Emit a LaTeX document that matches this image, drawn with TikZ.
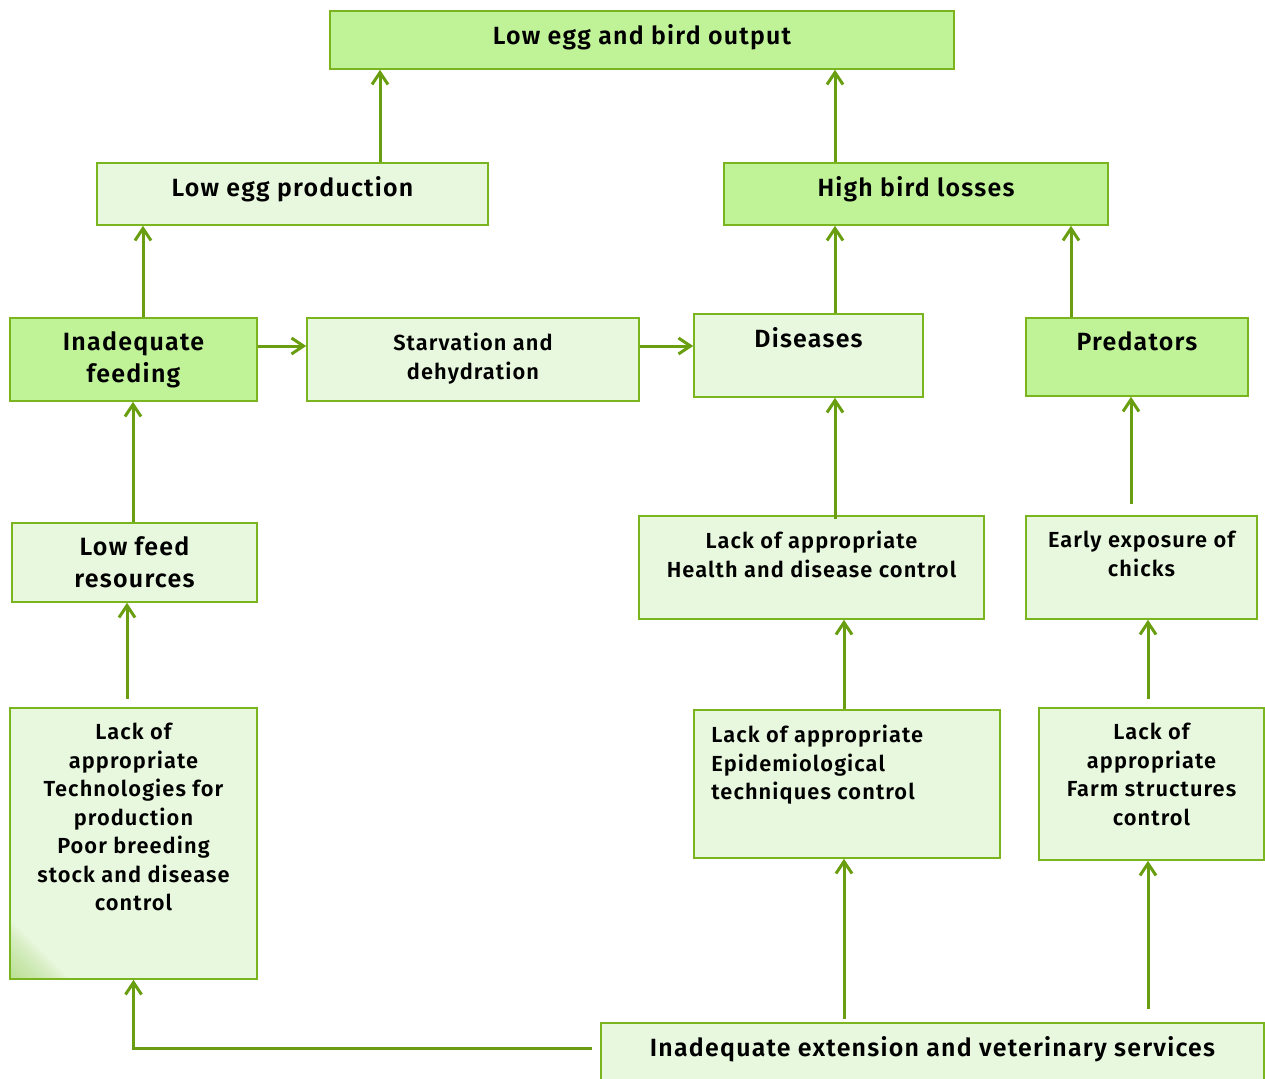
\documentclass[tikz,border=0pt]{standalone}
\usepackage{fontspec}
\setmainfont{Fira Sans}[BoldFont={Fira Sans SemiBold},LetterSpace=5]
\definecolor{pfdark}{RGB}{192,243,152}
\definecolor{pflight}{RGB}{232,248,222}
\definecolor{pfline}{RGB}{122,180,30}
\definecolor{pfarrow}{RGB}{104,158,16}
\usetikzlibrary{arrows.meta,positioning,calc}

\begin{document}
\begin{tikzpicture}[x=1pt,y=-1pt,
  pfbox/.style={draw=pfline,line width=1.6pt,rectangle,inner sep=0pt},
  pfhi/.style={pfbox,fill=pfdark},
  pflo/.style={pfbox,fill=pflight},
  pftxt/.style={anchor=north,yshift=-16pt,align=center,inner sep=0pt,
    font=\bfseries\fontsize{21.8}{28.5}\selectfont},
  pfmid/.style={pftxt,yshift=1.5pt,font=\bfseries\fontsize{24.9}{30}\selectfont},
  pfbig/.style={pftxt,yshift=2pt,font=\bfseries\fontsize{25}{32}\selectfont},
  pfarr/.style={-{Straight Barb[length=12pt,width=16pt]},line width=3pt,pfarrow}
]
  \useasboundingbox (0,0) rectangle (1265,1078);
  % effects
  \node[pfhi,minimum width=624pt,minimum height=58pt,
    label={[pfmid,name=out-t]north:{Low egg and bird output}}] (out) at (642,40) {};
  \node[pflo,minimum width=391pt,minimum height=62pt,
    label={[pfmid,name=egg-t]north:{Low egg production}}] (egg) at (292.5,194) {};
  \node[pfhi,minimum width=384pt,minimum height=62pt,
    label={[pfmid,name=loss-t]north:{High bird losses}}] (loss) at (916,194) {};
  % direct causes
  \node[pfhi,minimum width=247pt,minimum height=83pt,
    label={[pfbig,name=feed-t]north:{Inadequate\\feeding}}] (feed) at (133.5,359.5) {};
  \node[pflo,minimum width=332pt,minimum height=83pt,
    label={[pftxt,name=starv-t]north:{Starvation and\\dehydration}}] (starv) at (473,359.5) {};
  \node[pflo,minimum width=229pt,minimum height=83pt,
    label={[pfmid,name=dis-t]north:{Diseases}}] (dis) at (808.5,355.5) {};
  \node[pfhi,minimum width=222pt,minimum height=78pt,
    label={[pfmid,name=pred-t]north:{Predators}}] (pred) at (1137,357) {};
  % underlying causes
  \node[pflo,minimum width=245pt,minimum height=79pt,
    label={[pfbig,name=lowfeed-t]north:{Low feed\\resources}}] (lowfeed) at (134.5,562.5) {};
  \node[pflo,minimum width=345pt,minimum height=103pt,
    label={[pftxt,name=health-t]north:{Lack of appropriate\\Health and disease control}}] (health) at (811.5,567.5) {};
  \node[pflo,minimum width=231pt,minimum height=103pt,
    label={[pftxt,name=early-t]north:{Early exposure of\\chicks}}] (early) at (1141.5,567.5) {};
  % root causes
  \node[pflo,minimum width=247pt,minimum height=271pt,
    path picture={\foreach \d in {3,6,...,60}
      \fill[pfdark!50!pfline,opacity=0.035] (path picture bounding box.south west)
        -- ++(0,-\d) -- ++(\d,\d) -- cycle;},
    label={[pftxt,name=techn-t]north:{Lack of\\appropriate\\Technologies for\\production\\Poor breeding\\stock and disease\\control}}] (techn) at (133.5,843.5) {};
  \node[pflo,minimum width=306pt,minimum height=148pt,
    label={[pftxt,anchor=north west,align=left,xshift=18pt,name=epid-t]north west:{Lack of appropriate\\Epidemiological\\techniques control}}] (epid) at (847,784) {};
  \node[pflo,minimum width=225pt,minimum height=152pt,
    label={[pftxt,name=farm-t]north:{Lack of\\appropriate\\Farm structures\\control}}] (farm) at (1151.5,784) {};
  \node[pflo,minimum width=663pt,minimum height=62pt,
    label={[pfmid,name=ext-t]north:{Inadequate extension and veterinary services}}] (ext) at (932.5,1054) {};
  % arrows
  \draw[pfarr] ([xshift=87.5pt]egg.north) -- ([xshift=87.5pt]egg.north |- out.south);
  \draw[pfarr] ([xshift=-81pt]loss.north) -- ([xshift=-81pt]loss.north |- out.south);
  \draw[pfarr] ([xshift=9.5pt]feed.north) -- ([xshift=9.5pt]feed.north |- egg.south);
  \draw[pfarr] ([xshift=26.5pt]dis.north) -- ([xshift=26.5pt]dis.north |- loss.south);
  \draw[pfarr] ([xshift=-66pt]pred.north) -- ([xshift=-66pt]pred.north |- loss.south);
  \draw[pfarr] ([yshift=13.5pt]feed.east) -- ([yshift=13.5pt]feed.east -| starv.west);
  \draw[pfarr] ([yshift=13.5pt]starv.east) -- ([yshift=13.5pt]starv.east -| dis.west);
  \draw[pfarr] ([xshift=-1.5pt]lowfeed.north) -- ([xshift=-1.5pt]lowfeed.north |- feed.south);
  \draw[pfarr,shorten <=-4pt] ([xshift=23.5pt]health.north) -- ([xshift=23.5pt]health.north |- dis.south);
  \draw[pfarr,shorten <=11pt] ([xshift=-10.5pt]early.north) -- ([xshift=-10.5pt]early.north |- pred.south);
  \draw[pfarr,shorten <=8pt] ([xshift=-6.5pt]techn.north) -- ([xshift=-6.5pt]techn.north |- lowfeed.south);
  \draw[pfarr] ([xshift=-3pt]epid.north) -- ([xshift=-3pt]epid.north |- health.south);
  \draw[pfarr,shorten <=8pt] ([xshift=-3.5pt]farm.north) -- ([xshift=-3.5pt]farm.north |- early.south);
  \draw[pfarr,shorten <=3pt] ([xshift=-88.5pt]ext.north) -- ([xshift=-88.5pt]ext.north |- epid.south);
  \draw[pfarr,shorten <=13pt] ([xshift=215.5pt]ext.north) -- ([xshift=215.5pt]ext.north |- farm.south);
  \draw[pfarr,shorten <=8pt] ([yshift=6pt]ext.west) -| (techn.south);
\end{tikzpicture}
\end{document}
